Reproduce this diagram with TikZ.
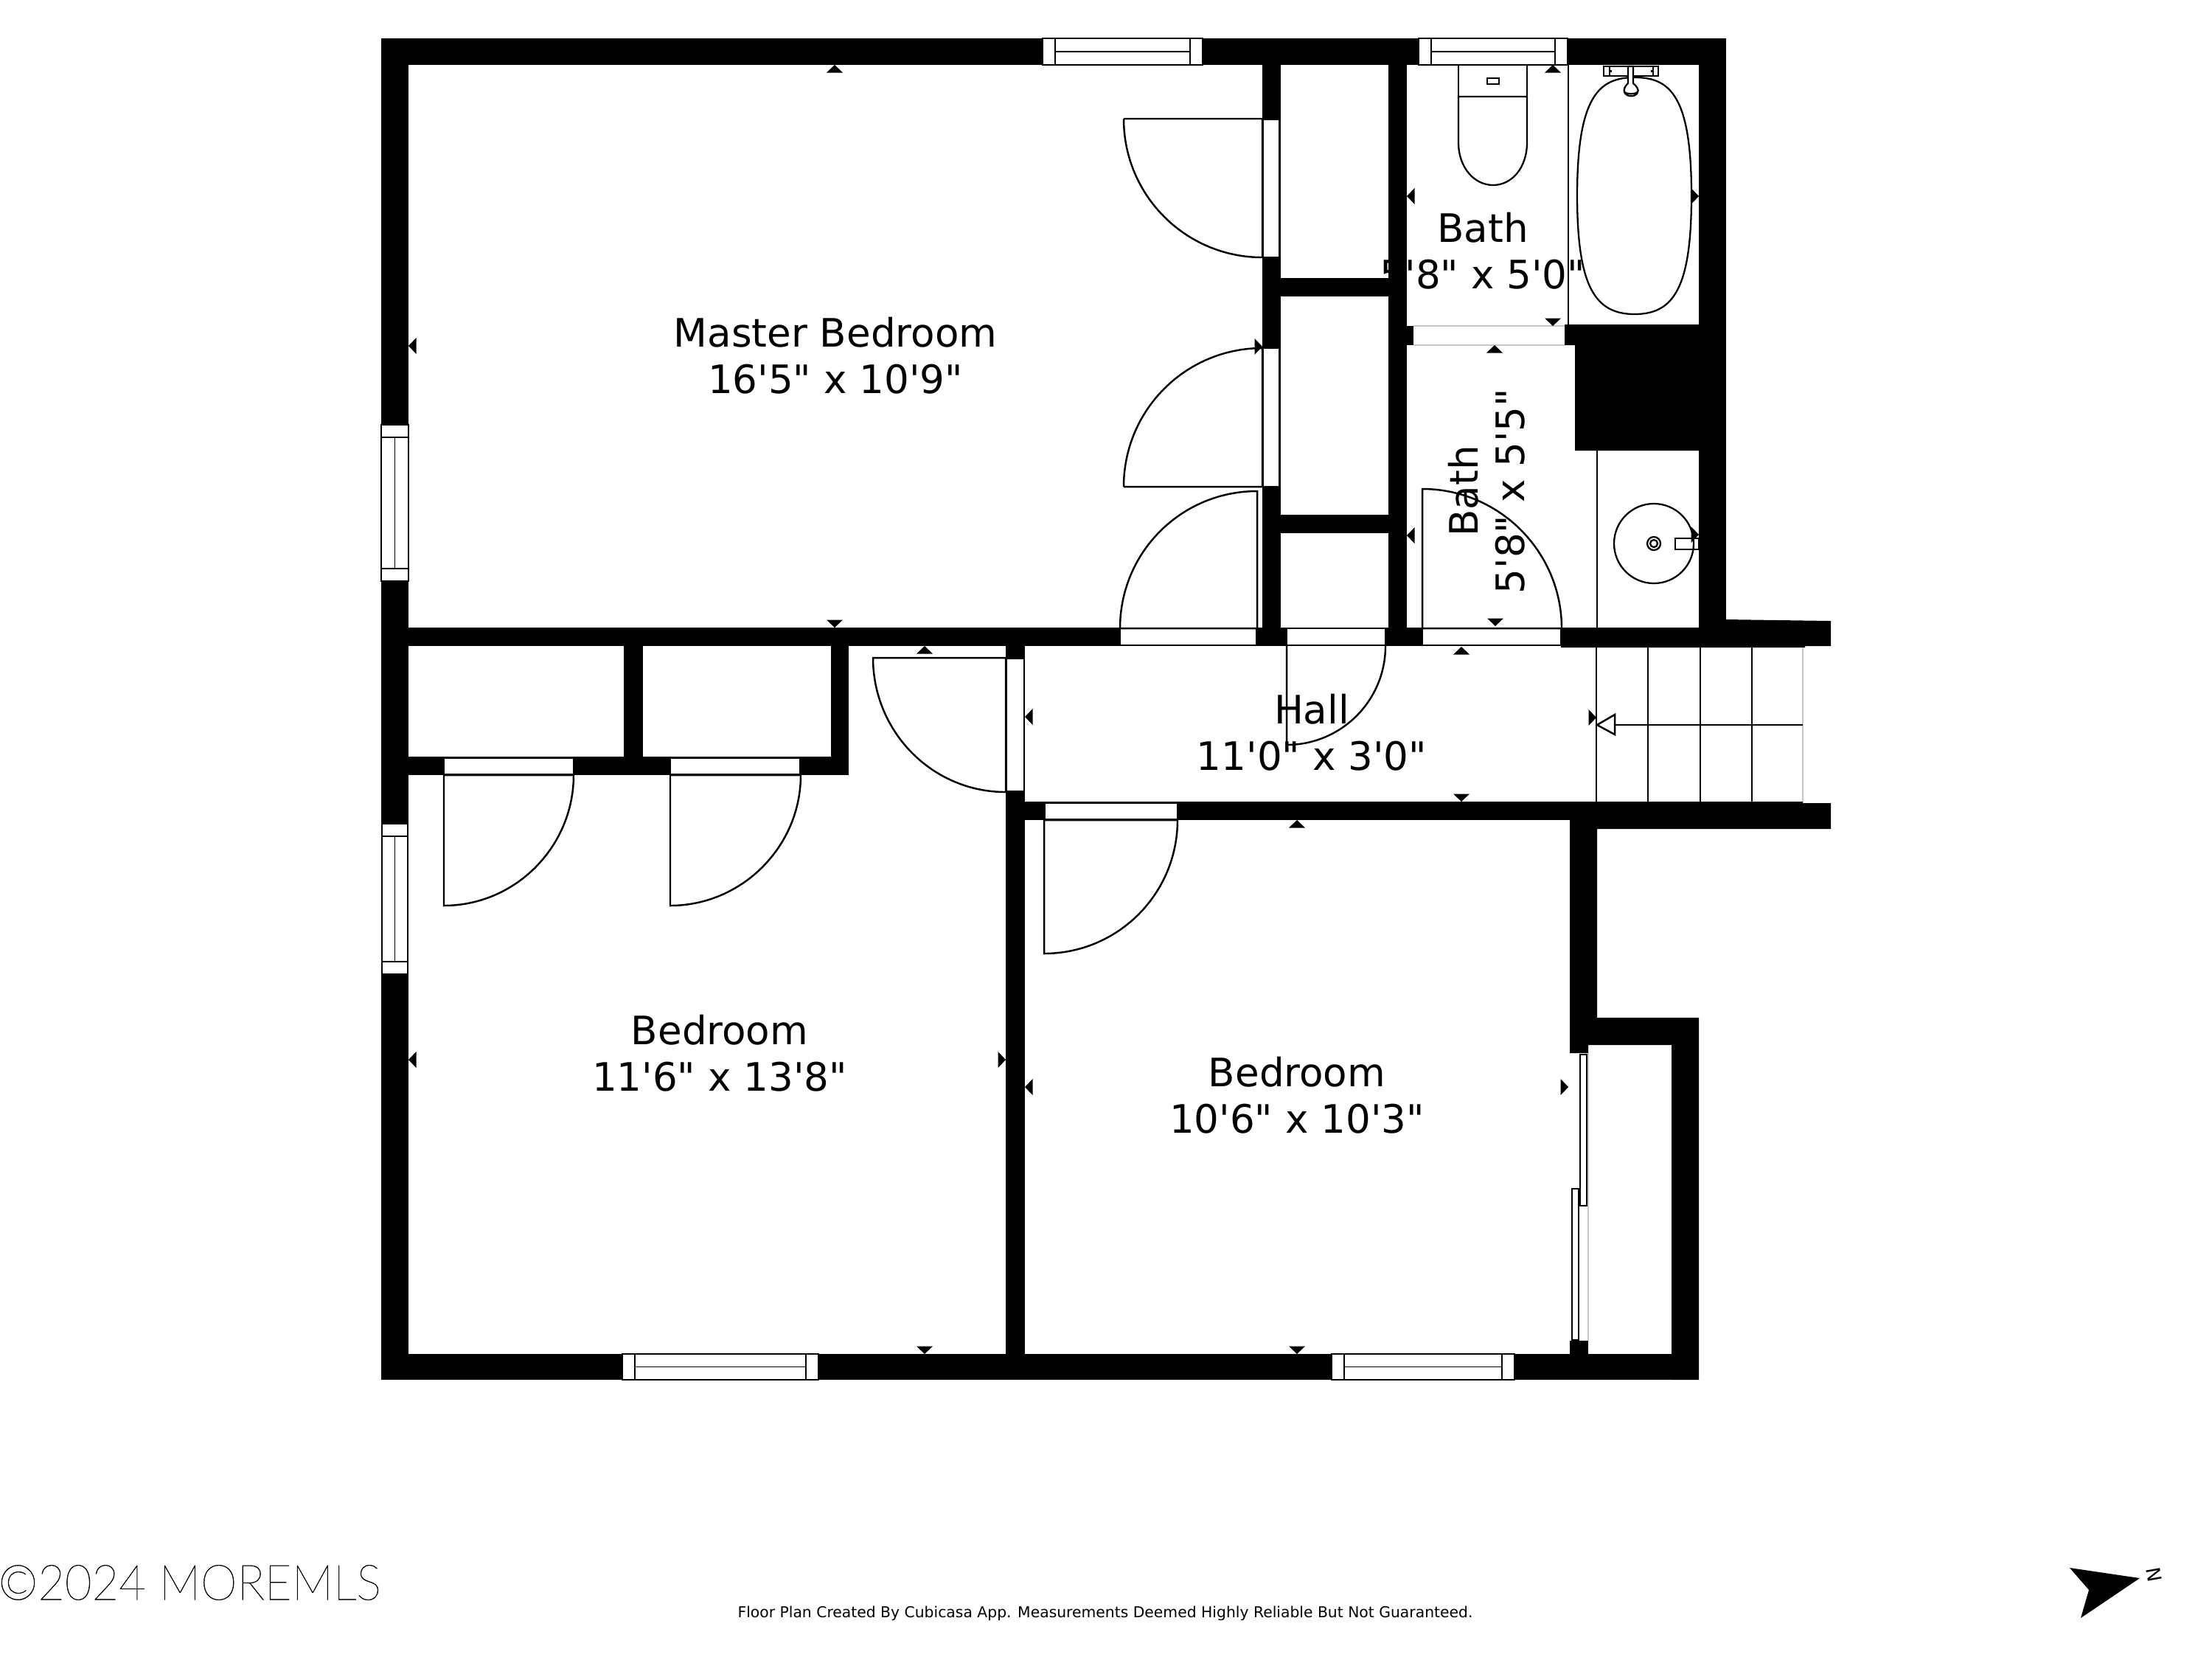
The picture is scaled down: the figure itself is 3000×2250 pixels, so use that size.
\documentclass[tikz,border=0pt]{standalone}
\usepackage{fontspec}
\usepackage{graphicx}
\setmainfont{DejaVu Sans}
\newfontfamily\labelfont{DejaVu Sans}
\newfontfamily\wmfont{Lato Hairline}
\tikzset{
  wall/.style={fill=black,draw=none},
  opening/.style={fill=white,draw=black,line width=0.4pt},
  winrail/.style={draw=black,line width=0.5pt},
  thin line/.style={draw=black,line width=0.7pt},
  swing/.style={draw=black,line width=0.7pt},
  fixture/.style={draw=black,line width=0.65pt,fill=white},
  faint/.style={draw=black!22,line width=0.35pt},
  mark tri/.style={fill=black,draw=none},
  roomlabel/.style={font=\labelfont\fontsize{15.1}{17.9}\selectfont,align=center,inner sep=0pt,text=black},
}
\newcommand{\winH}[4]{% x1 x2 y1 y2: horizontal window
  \path[opening,line width=0.55pt] (#1,#3) rectangle (#2,#4);
  \draw[winrail] ({#1+17},#3) -- ({#1+17},#4);
  \draw[winrail] ({#2-17},#3) -- ({#2-17},#4);
  \draw[winrail] ({#1+17},{(#3+#4)/2}) -- ({#2-17},{(#3+#4)/2});
}
\newcommand{\winV}[4]{% x1 x2 y1 y2: vertical window
  \path[opening,line width=0.55pt] (#1,#3) rectangle (#2,#4);
  \draw[winrail] (#1,{#3+17}) -- (#2,{#3+17});
  \draw[winrail] (#1,{#4-17}) -- (#2,{#4-17});
  \draw[winrail] ({(#1+#2)/2},{#3+17}) -- ({(#1+#2)/2},{#4-17});
}
\newcommand{\mkU}[2]{\fill[mark tri] (#1,#2) -- ({#1-11},{#2+10.5}) -- ({#1+11},{#2+10.5}) -- cycle;}
\newcommand{\mkD}[2]{\fill[mark tri] (#1,#2) -- ({#1-11},{#2-10.5}) -- ({#1+11},{#2-10.5}) -- cycle;}
\newcommand{\mkL}[2]{\fill[mark tri] (#1,#2) -- ({#1+10.5},{#2-11}) -- ({#1+10.5},{#2+11}) -- cycle;}
\newcommand{\mkR}[2]{\fill[mark tri] (#1,#2) -- ({#1-10.5},{#2-11}) -- ({#1-10.5},{#2+11}) -- cycle;}
\begin{document}
\begin{tikzpicture}[x=0.01cm,y=-0.01cm]
\useasboundingbox (0,0) rectangle (3000,2250);
\fill[white] (0,0) rectangle (3000,2250);

% room labels (under the walls, as in the plan)
\node[roomlabel] (master) at (1133,482) {Master Bedroom\\16'5" x 10'9"};
\node[roomlabel] (bath1) at (2011,340) {Bath\\5'8" x 5'0"};
\node[roomlabel,rotate=90] (bath2) at (2016,666) {Bath\\5'8" x 5'5"};
\node[roomlabel] (hall) at (1779,993) {Hall\\11'0" x 3'0"};
\node[roomlabel] (bed1) at (976,1428) {Bedroom\\11'6" x 13'8"};
\node[roomlabel] (bed2) at (1759,1485) {Bedroom\\10'6" x 10'3"};

% outer walls
\fill[wall] (517,52) rectangle (2341,88);
\fill[wall] (517,52) rectangle (554,1871);
\fill[wall] (517,1836) rectangle (2304,1871);
\fill[wall] (2304,52) rectangle (2341,876);
% master bottom wall with stub over the stairs
\fill[wall] (517,851) rectangle (2304,876);
\fill[wall] (2117,851) -- (2341,851) -- (2341,840) -- (2483,842) -- (2483,876) -- (2448,876) -- (2448,878) -- (2117,878) -- cycle;
% closets of the master bedroom
\fill[wall] (1712,88) rectangle (1737,876);
\fill[wall] (1883,88) rectangle (1908,876);
\fill[wall] (1737,377) rectangle (1883,402);
\fill[wall] (1737,698) rectangle (1883,723);
% block between the baths
\fill[wall] (1908,442) rectangle (1917,468);
\fill[wall] (2122,440) -- (2304,440) -- (2304,611) -- (2136,611) -- (2136,468) -- (2122,468) -- cycle;
% closets of the left bedroom
\fill[wall] (846,876) rectangle (872,1051);
\fill[wall] (1127,876) rectangle (1151,1051);
\fill[wall] (554,1026) rectangle (1151,1051);
% hall / bedrooms
\fill[wall] (1364,876) rectangle (1390,1836);
\fill[wall] (1390,1087) rectangle (2445,1112);
\fill[wall] (2129,1087) -- (2445,1087) -- (2445,1089) -- (2483,1089) -- (2483,1124) -- (2166,1124) -- (2166,1380) -- (2304,1380) -- (2304,1871) -- (2267,1871) -- (2267,1417) -- (2154,1417) -- (2154,1428) -- (2129,1428) -- cycle;
\fill[wall] (2129,1818) rectangle (2154,1836);

% gap of the opening between the baths
\draw[faint] (1917,442) -- (2122,442);
\draw[faint] (1917,468) -- (2122,468);

% windows
\winH{1414}{1631}{52}{88}
\winH{1924}{2126}{52}{88}
\winV{517}{554}{576}{788}
\winV{518}{553}{1117}{1321}
\winH{844}{1110}{1836}{1871}
\winH{1806}{2054}{1836}{1871}

% door openings and swings
\path[opening] (1713,162) rectangle (1735,349);
\draw[swing] (1524,161) -- (1712,161) -- (1712,349) (1524,161) .. controls (1524,265) and (1608,349) .. (1712,349);
\path[opening] (1713,472) rectangle (1735,660);
\draw[swing] (1524,660) -- (1712,660) -- (1712,472) (1524,660) .. controls (1524,556) and (1608,472) .. (1712,472);
\path[opening] (1519,852) rectangle (1704,875);
\draw[swing] (1705,852) -- (1705,666) .. controls (1602,666) and (1519,749) .. (1519,852) -- (1705,852);
\path[opening] (1745,852) rectangle (1879,875);
\draw[swing] (1745,875) -- (1745,1010) .. controls (1819,1010) and (1879,950) .. (1879,876);
\path[opening] (1929,852) rectangle (2117,875);
\draw[swing] (2118,852) -- (1929,852) -- (1929,663) .. controls (2033,663) and (2118,748) .. (2118,852);
\path[opening] (1365,893) rectangle (1389,1073);
\draw[swing] (1364,1074) -- (1364,892) -- (1184,892) .. controls (1184,992) and (1264,1074) .. (1364,1074);
\path[opening] (1417,1089) rectangle (1597,1111);
\draw[swing] (1597,1112) -- (1416,1112) -- (1416,1293) .. controls (1516,1293) and (1597,1212) .. (1597,1112);
\path[opening] (602,1028) rectangle (778,1050);
\draw[swing] (778,1051) -- (602,1051) -- (602,1228) .. controls (699,1228) and (778,1148) .. (778,1051);
\path[opening] (909,1028) rectangle (1085,1050);
\draw[swing] (1086,1051) -- (909,1051) -- (909,1228) .. controls (1006,1228) and (1086,1148) .. (1086,1051);

% sliding doors
\draw[swing,fill=white] (2143,1430) rectangle (2152,1635);
\draw[swing,fill=white] (2132,1612) rectangle (2141,1817);
\draw[faint] (2154,1428) -- (2154,1818);

% bathroom fixture edges
\draw[thin line] (2127,88) -- (2127,440);
\draw[thin line] (2166,611) -- (2166,851);
% toilet
\draw[fixture] (1978,88) rectangle (2071,131);
\draw[fixture] (2017,106) rectangle (2033,114);
\draw[fixture] (1978,131) -- (1978,193) .. controls (1978,228) and (2000,251) .. (2025,251) .. controls (2050,251) and (2071,228) .. (2071,193) -- (2071,131) -- cycle;
% tub
\draw[fixture,fill=none] (2217,105) .. controls (2265,105) and (2294,130) .. (2294,265) .. controls (2294,390) and (2270,426) .. (2217,426) .. controls (2164,426) and (2139,390) .. (2139,265) .. controls (2139,130) and (2169,105) .. (2217,105) -- cycle;
\draw[fixture,fill=none] (2175,90) rectangle (2249,103);
\draw[fixture,fill=none] (2183,90) -- (2183,103) (2242,90) -- (2242,103);
\fill[black] (2183,95) rectangle (2186,98);
\fill[black] (2239,95) rectangle (2242,98);
\draw[fixture] (2208,90) -- (2208,113) .. controls (2203,117) and (2202,122) .. (2203,125) .. controls (2206,132) and (2219,132) .. (2221,125) .. controls (2223,122) and (2220,117) .. (2215,113) -- (2215,90) -- cycle;
\draw[fixture,fill=none] (2203,125) .. controls (2207,128) and (2217,128) .. (2221,125);
% sink
\draw[fixture,fill=none] (2243,737) circle[radius=54];
\draw[fixture,fill=none] (2243,737) circle[radius=9];
\draw[fixture,fill=none] (2243,737) circle[radius=5];
\draw[fixture,fill=none] (2272,730) rectangle (2304,745);

% stairs
\foreach \sx/\sn in {2165/a,2235/b,2306/c,2376/d}{\draw[thin line] (\sx,878) -- (\sx,1087);}
\draw[faint] (2445,878) -- (2445,1087);
\draw[thin line] (2445,983) -- (2190,983);
\draw[thin line,line join=miter] (2190,969) -- (2166,983) -- (2190,996) -- cycle;

% dimension ticks
\mkU{1132}{88}\mkD{1132}{851}\mkL{554}{469}\mkR{1712}{470}
\mkU{2106}{88}\mkD{2106}{442}\mkL{1908}{266}\mkR{2304}{266}
\mkU{2027}{468}\mkD{2028}{849}\mkL{1908}{726}\mkR{2304}{725}
\mkU{1982}{877}\mkD{1982}{1087}\mkL{1390}{972}\mkR{2165}{973}
\mkU{1254}{876}\mkD{1254}{1836}\mkL{554}{1437}\mkR{1364}{1437}
\mkU{1759}{1112}\mkD{1759}{1836}\mkL{1390}{1474}\mkR{2127}{1474}

% footer
\node[font=\labelfont\fontsize{5.78}{7}\selectfont,inner sep=0pt] (credit) at (1499,2188) {Floor Plan Created By Cubicasa App. Measurements Deemed Highly Reliable But Not Guaranteed.};
\node[font=\wmfont\fontsize{18.9}{20}\selectfont,inner sep=0pt,anchor=west] (mark) at (-3,2146) {\special{pdf:code q 2 Tr 0.12 w}\scalebox{0.95}[1]{©2024 MOREMLS}\special{pdf:code Q}};
\fill[black] (2807,2126) -- (2902,2140) -- (2822,2194) -- (2833,2156) -- cycle;
\node[font=\labelfont\fontsize{7.4}{8}\selectfont,rotate=-80,inner sep=0pt] (north) at (2921,2135) {N};
\end{tikzpicture}
\end{document}
